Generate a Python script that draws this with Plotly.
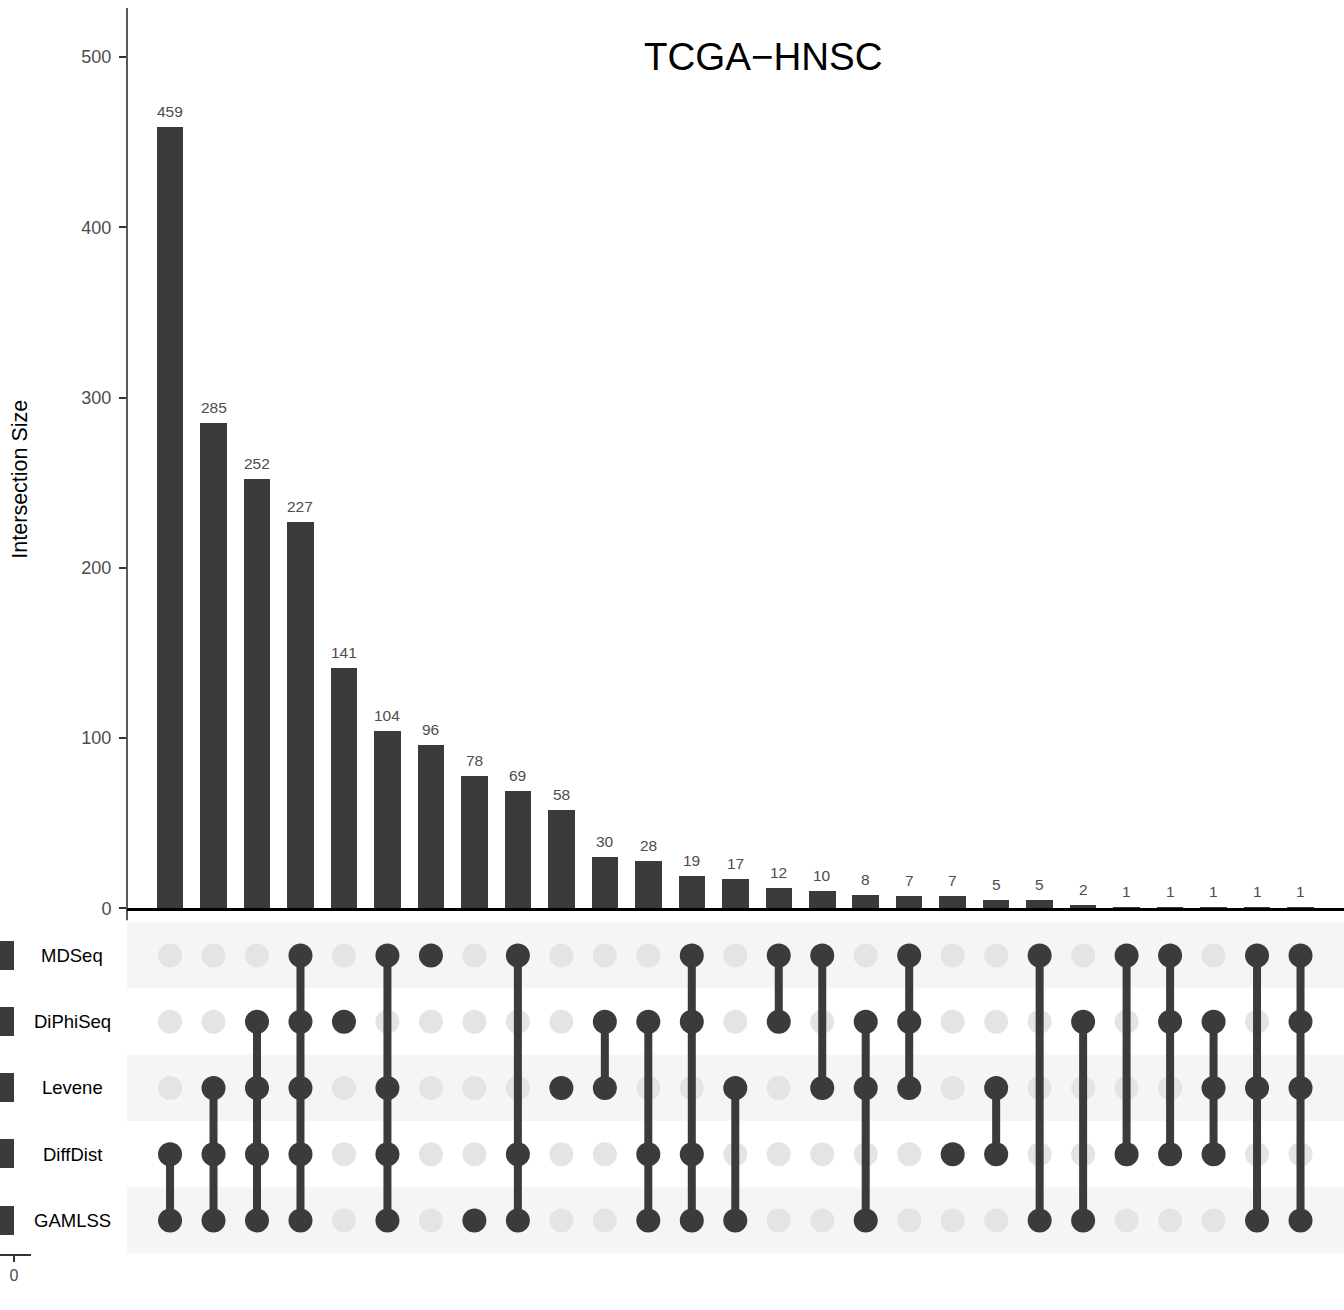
import plotly.graph_objects as go

# ---------------- data ----------------
set_names = ["MDSeq", "DiPhiSeq", "Levene", "DiffDist", "GAMLSS"]  # top -> bottom
set_sizes = [553, 729, 1006, 1458, 1555]

intersection_sizes = [459, 285, 252, 227, 141, 104, 96, 78, 69, 58, 30, 28, 19, 17,
                      12, 10, 8, 7, 7, 5, 5, 2, 1, 1, 1, 1, 1]

memberships = [
    ["DiffDist", "GAMLSS"],
    ["Levene", "DiffDist", "GAMLSS"],
    ["DiPhiSeq", "Levene", "DiffDist", "GAMLSS"],
    ["MDSeq", "DiPhiSeq", "Levene", "DiffDist", "GAMLSS"],
    ["DiPhiSeq"],
    ["MDSeq", "Levene", "DiffDist", "GAMLSS"],
    ["MDSeq"],
    ["GAMLSS"],
    ["MDSeq", "DiffDist", "GAMLSS"],
    ["Levene"],
    ["DiPhiSeq", "Levene"],
    ["DiPhiSeq", "DiffDist", "GAMLSS"],
    ["MDSeq", "DiPhiSeq", "DiffDist", "GAMLSS"],
    ["Levene", "GAMLSS"],
    ["MDSeq", "DiPhiSeq"],
    ["MDSeq", "Levene"],
    ["DiPhiSeq", "Levene", "GAMLSS"],
    ["MDSeq", "DiPhiSeq", "Levene"],
    ["DiffDist"],
    ["Levene", "DiffDist"],
    ["MDSeq", "GAMLSS"],
    ["DiPhiSeq", "GAMLSS"],
    ["MDSeq", "DiffDist"],
    ["MDSeq", "DiPhiSeq", "DiffDist"],
    ["DiPhiSeq", "Levene", "DiffDist"],
    ["MDSeq", "Levene", "GAMLSS"],
    ["MDSeq", "DiPhiSeq", "Levene", "GAMLSS"],
]

title_text = "TCGA\u2212HNSC"
y_title = "Intersection Size"
y_ticks = [0, 100, 200, 300, 400, 500]

# ---------------- layout helpers ----------------
W, H = 1344, 1319
REF_H = 1310
FONT = "Liberation Sans, Arial, sans-serif"
DARK = "#3b3b3b"
GREY_DOT = "#e4e4e4"
STRIPE = "#f5f5f5"


def px_x(p):
    return p / W


def px_y(p):
    return 1 - p / REF_H


n = len(intersection_sizes)
xs = list(range(n))
row_of = {s: len(set_names) - 1 - i for i, s in enumerate(set_names)}

fig = go.Figure()

# intersection bars
fig.add_trace(go.Bar(
    x=xs, y=intersection_sizes, width=0.61, marker=dict(color=DARK, line=dict(width=0)),
    xaxis="x", yaxis="y", showlegend=False, hoverinfo="x+y"))

# matrix: grey dots, connecting lines, member dots
gx, gy = [], []
lx, ly = [], []
dx, dy = [], []
for i, mem in enumerate(memberships):
    rows = [row_of[s] for s in mem]
    for s in set_names:
        r = row_of[s]
        if s in mem:
            dx.append(i); dy.append(r)
        else:
            gx.append(i); gy.append(r)
    if len(rows) > 1:
        lx += [i, i, None]
        ly += [min(rows), max(rows), None]

fig.add_trace(go.Scatter(x=gx, y=gy, mode="markers", xaxis="x2", yaxis="y2",
                         marker=dict(size=24, color=GREY_DOT, line=dict(width=0)),
                         showlegend=False, hoverinfo="skip"))
fig.add_trace(go.Scatter(x=lx, y=ly, mode="lines", xaxis="x2", yaxis="y2",
                         line=dict(color=DARK, width=8), showlegend=False, hoverinfo="skip"))
fig.add_trace(go.Scatter(x=dx, y=dy, mode="markers", xaxis="x2", yaxis="y2",
                         marker=dict(size=24, color=DARK, line=dict(width=0)),
                         showlegend=False, hoverinfo="skip"))

# set size bars (clipped on the left as in the reference)
fig.add_trace(go.Bar(
    x=set_sizes, y=[row_of[s] for s in set_names], orientation="h", width=0.44,
    marker=dict(color=DARK, line=dict(width=0)), xaxis="x3", yaxis="y3",
    showlegend=False, hoverinfo="x"))

x_dom = [px_x(127), 1.0]
x_rng = [-0.99, 27.0]
bar_dom = [px_y(909), px_y(8)]
mat_dom = [px_y(1254.5), px_y(923)]

shapes = []
for s in ["MDSeq", "Levene", "GAMLSS"]:
    r = row_of[s]
    shapes.append(dict(type="rect", xref="paper", yref="y2", x0=px_x(127), x1=1.0,
                       y0=r - 0.5, y1=r + 0.5, fillcolor=STRIPE, line=dict(width=0),
                       layer="below"))
shapes.append(dict(type="line", xref="paper", yref="paper", x0=px_x(127), x1=px_x(127),
                   y0=px_y(921), y1=px_y(8), line=dict(color="black", width=1.3)))

annotations = []
for i, v in enumerate(intersection_sizes):
    annotations.append(dict(x=i, y=v, xref="x", yref="y", text=str(v), showarrow=False,
                            yanchor="bottom", yshift=5,
                            font=dict(family=FONT, size=15.5, color="#4d4d4d")))
for s in set_names:
    annotations.append(dict(x=px_x(72), y=row_of[s], xref="paper", yref="y2", text=s,
                            showarrow=False, xanchor="center", yanchor="middle",
                            font=dict(family=FONT, size=18.5, color="black")))
annotations.append(dict(x=px_x(763), y=px_y(57), xref="paper", yref="paper", text=title_text,
                        showarrow=False, xanchor="center", yanchor="middle",
                        font=dict(family=FONT, size=38.5, color="black")))
annotations.append(dict(x=px_x(20), y=px_y(480), xref="paper", yref="paper", text=y_title,
                        showarrow=False, xanchor="center", yanchor="middle", textangle=-90,
                        font=dict(family=FONT, size=21.5, color="black")))

fig.update_layout(
    width=W, height=H, autosize=False, margin=dict(l=0, r=0, t=0, b=0),
    paper_bgcolor="white", plot_bgcolor="rgba(0,0,0,0)",
    bargap=0, showlegend=False,
    xaxis=dict(domain=x_dom, range=x_rng, anchor="y", showgrid=False, zeroline=False,
               showticklabels=False, ticks="", showline=True, linecolor="black", linewidth=2.5),
    yaxis=dict(domain=bar_dom, range=[0, 528.8], anchor="x", showgrid=False, zeroline=False,
               tickvals=y_ticks, ticks="outside", ticklen=7, tickwidth=2, tickcolor="#333333",
               tickfont=dict(family=FONT, size=18, color="#4d4d4d"), showline=False,
               ticklabelstandoff=4),
    xaxis2=dict(domain=x_dom, range=x_rng, anchor="y2", visible=False),
    yaxis2=dict(domain=mat_dom, range=[-0.5, 4.5], anchor="x2", visible=False),
    xaxis3=dict(domain=[0, px_x(31)], range=[140, -170], anchor="y3", showgrid=False,
                zeroline=False, tickvals=[0], ticks="outside", ticklen=7, tickwidth=2,
                tickcolor="#333333", showline=True, linecolor="#333333", linewidth=1.5,
                tickfont=dict(family=FONT, size=16, color="#4d4d4d")),
    yaxis3=dict(domain=mat_dom, range=[-0.5, 4.5], anchor="x3", visible=False),
    shapes=shapes, annotations=annotations,
)

fig.write_html("out.html",
               config={"displayModeBar": False, "responsive": False},
               post_script="document.body.style.margin='0';document.body.style.overflow='hidden';")
